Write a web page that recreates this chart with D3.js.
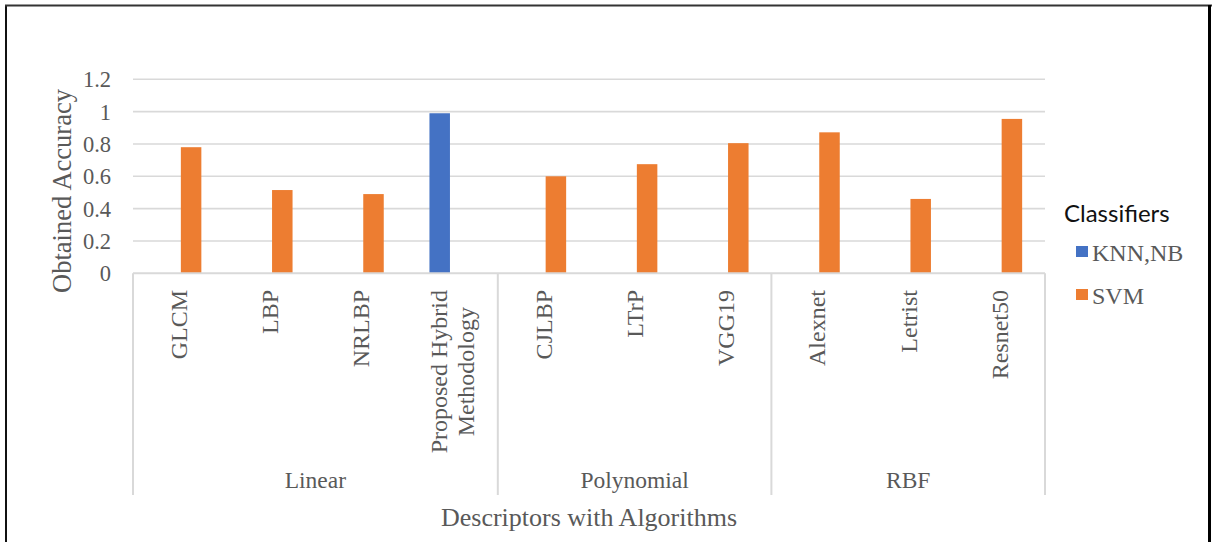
<!DOCTYPE html>
<html>
<head>
<meta charset="utf-8">
<script src="https://cdn.jsdelivr.net/npm/d3@7"></script>
<style>
  html, body { margin: 0; padding: 0; background: #fff; }
  svg { display: block; }
</style>
</head>
<body>
<svg id="chart" width="1212" height="542"></svg>
<script>
// Descriptor categories (label lines) and their kernel groups
const categories = ["GLCM", "LBP", "NRLBP", "Proposed Hybrid\nMethodology", "CJLBP", "LTrP", "VGG19", "Alexnet", "Letrist", "Resnet50"];
const groups = ["Linear", "Linear", "Linear", "Linear", "Polynomial", "Polynomial", "Polynomial", "RBF", "RBF", "RBF"];
const seriesNames = ["KNN,NB", "SVM"];
const knnNb = [null, null, null, 0.99, null, null, null, null, null, null];
const svm = [0.78, 0.515, 0.49, null, 0.60, 0.675, 0.805, 0.872, 0.46, 0.955];
const yTicks = [0, 0.2, 0.4, 0.6, 0.8, 1, 1.2];
const colors = ["#4472C4", "#ED7D31"];

(function () {
const svg = d3.select("#chart");
const W = 1212, H = 542;
const plotLeft = 133, plotRight = 1045, plotTop = 79.3, plotBottom = 273.3;
const lowerBottom = 495;
const textColor = "#595959";
const gridColor = "#d9d9d9";
const serif = "'Liberation Serif', 'Times New Roman', serif";

// frame
svg.append("line").attr("x1", 6).attr("x2", 6).attr("y1", 5).attr("y2", H).attr("stroke", "#111").attr("stroke-width", 2);
svg.append("line").attr("x1", 5).attr("x2", W).attr("y1", 5.5).attr("y2", 5.5).attr("stroke", "#333").attr("stroke-width", 2);
svg.append("line").attr("x1", 1209.5).attr("x2", 1209.5).attr("y1", 5).attr("y2", H).attr("stroke", "#000").attr("stroke-width", 3);

const x0 = d3.scaleBand().domain(d3.range(categories.length)).range([plotLeft, plotRight]).padding(0);
const x1 = d3.scaleBand().domain(seriesNames).range([0, x0.bandwidth()]).paddingInner(0.18).paddingOuter(0.914);
const y = d3.scaleLinear().domain([0, 1.2]).range([plotBottom, plotTop]);

// gridlines
svg.append("g").selectAll("line").data(yTicks.filter(d => d > 0)).join("line")
  .attr("x1", plotLeft).attr("x2", plotRight)
  .attr("y1", d => y(d)).attr("y2", d => y(d))
  .attr("stroke", gridColor).attr("stroke-width", 1.6);

// y axis labels
const yAxis = d3.axisLeft(y).tickValues(yTicks).tickSize(0).tickPadding(0).tickFormat(d => String(d));
const yg = svg.append("g").attr("transform", `translate(${111},0)`).call(yAxis);
yg.select(".domain").remove();
yg.selectAll("text").attr("font-family", serif).attr("font-size", 22.5).attr("fill", textColor).attr("dy", "0.34em");

// bars
const seriesData = [knnNb, svm];
seriesData.forEach((vals, si) => {
  svg.append("g").selectAll("rect")
    .data(vals.map((v, i) => ({ i, v })).filter(d => d.v != null))
    .join("rect")
    .attr("x", d => x0(d.i) + x1(seriesNames[si]))
    .attr("width", x1.bandwidth())
    .attr("y", d => y(d.v))
    .attr("height", d => y(0) - y(d.v))
    .attr("fill", colors[si]);
});

// category axis line
svg.append("line").attr("x1", plotLeft).attr("x2", plotRight).attr("y1", plotBottom).attr("y2", plotBottom)
  .attr("stroke", gridColor).attr("stroke-width", 2);

// group separators
const groupNames = Array.from(new Set(groups));
const groupRanges = groupNames.map(g => {
  const idx = groups.map((d, i) => d === g ? i : -1).filter(i => i >= 0);
  return { name: g, x0: x0(idx[0]), x1: x0(idx[idx.length - 1]) + x0.bandwidth() };
});
const seps = [plotLeft].concat(groupRanges.map(g => g.x1));
svg.append("g").selectAll("line").data(seps).join("line")
  .attr("x1", d => d).attr("x2", d => d).attr("y1", plotBottom).attr("y2", lowerBottom)
  .attr("stroke", gridColor).attr("stroke-width", 2);

// category labels, rotated
const catG = svg.append("g");
categories.forEach((c, i) => {
  const lines = c.split("\n");
  const cx = x0(i) + x0.bandwidth() / 2;
  const lh = 27;
  const t = catG.append("text")
    .attr("font-family", serif).attr("font-size", 24).attr("fill", textColor)
    .attr("text-anchor", "middle");
  lines.forEach((ln, k) => {
    t.append("tspan").attr("x", 0).attr("y", (k - (lines.length - 1) / 2) * lh).attr("dy", "0.35em").text(ln);
  });
  const maxLen = d3.max(t.selectAll("tspan").nodes(), n => n.getComputedTextLength());
  t.attr("transform", `translate(${cx},${290 + maxLen / 2}) rotate(-90)`);
});

// group labels
svg.append("g").selectAll("text").data(groupRanges).join("text")
  .attr("x", d => (d.x0 + d.x1) / 2).attr("y", 488)
  .attr("text-anchor", "middle")
  .attr("font-family", serif).attr("font-size", 23.5).attr("fill", textColor)
  .text(d => d.name);

// axis titles
svg.append("text").attr("x", (plotLeft + plotRight) / 2).attr("y", 526).attr("text-anchor", "middle")
  .attr("font-family", serif).attr("font-size", 26).attr("fill", textColor)
  .text("Descriptors with Algorithms");
svg.append("text").attr("transform", `translate(71,191) rotate(-90)`).attr("text-anchor", "middle")
  .attr("font-family", serif).attr("font-size", 26.5).attr("fill", textColor)
  .text("Obtained Accuracy");

// legend
const lg = svg.append("g");
lg.append("text").attr("x", 1064).attr("y", 222)
  .attr("font-family", "Lato, 'Open Sans', sans-serif").attr("font-size", 24).attr("fill", "#111")
  .text("Classifiers");
const legendY = [252, 295];
seriesNames.forEach((s, i) => {
  lg.append("rect").attr("x", 1076).attr("y", legendY[i] - 6).attr("width", 12).attr("height", 11).attr("fill", colors[i]);
  lg.append("text").attr("x", 1092).attr("y", legendY[i] + 9)
    .attr("font-family", serif).attr("font-size", 24).attr("fill", textColor)
    .text(s);
});
})();
</script>
</body>
</html>
